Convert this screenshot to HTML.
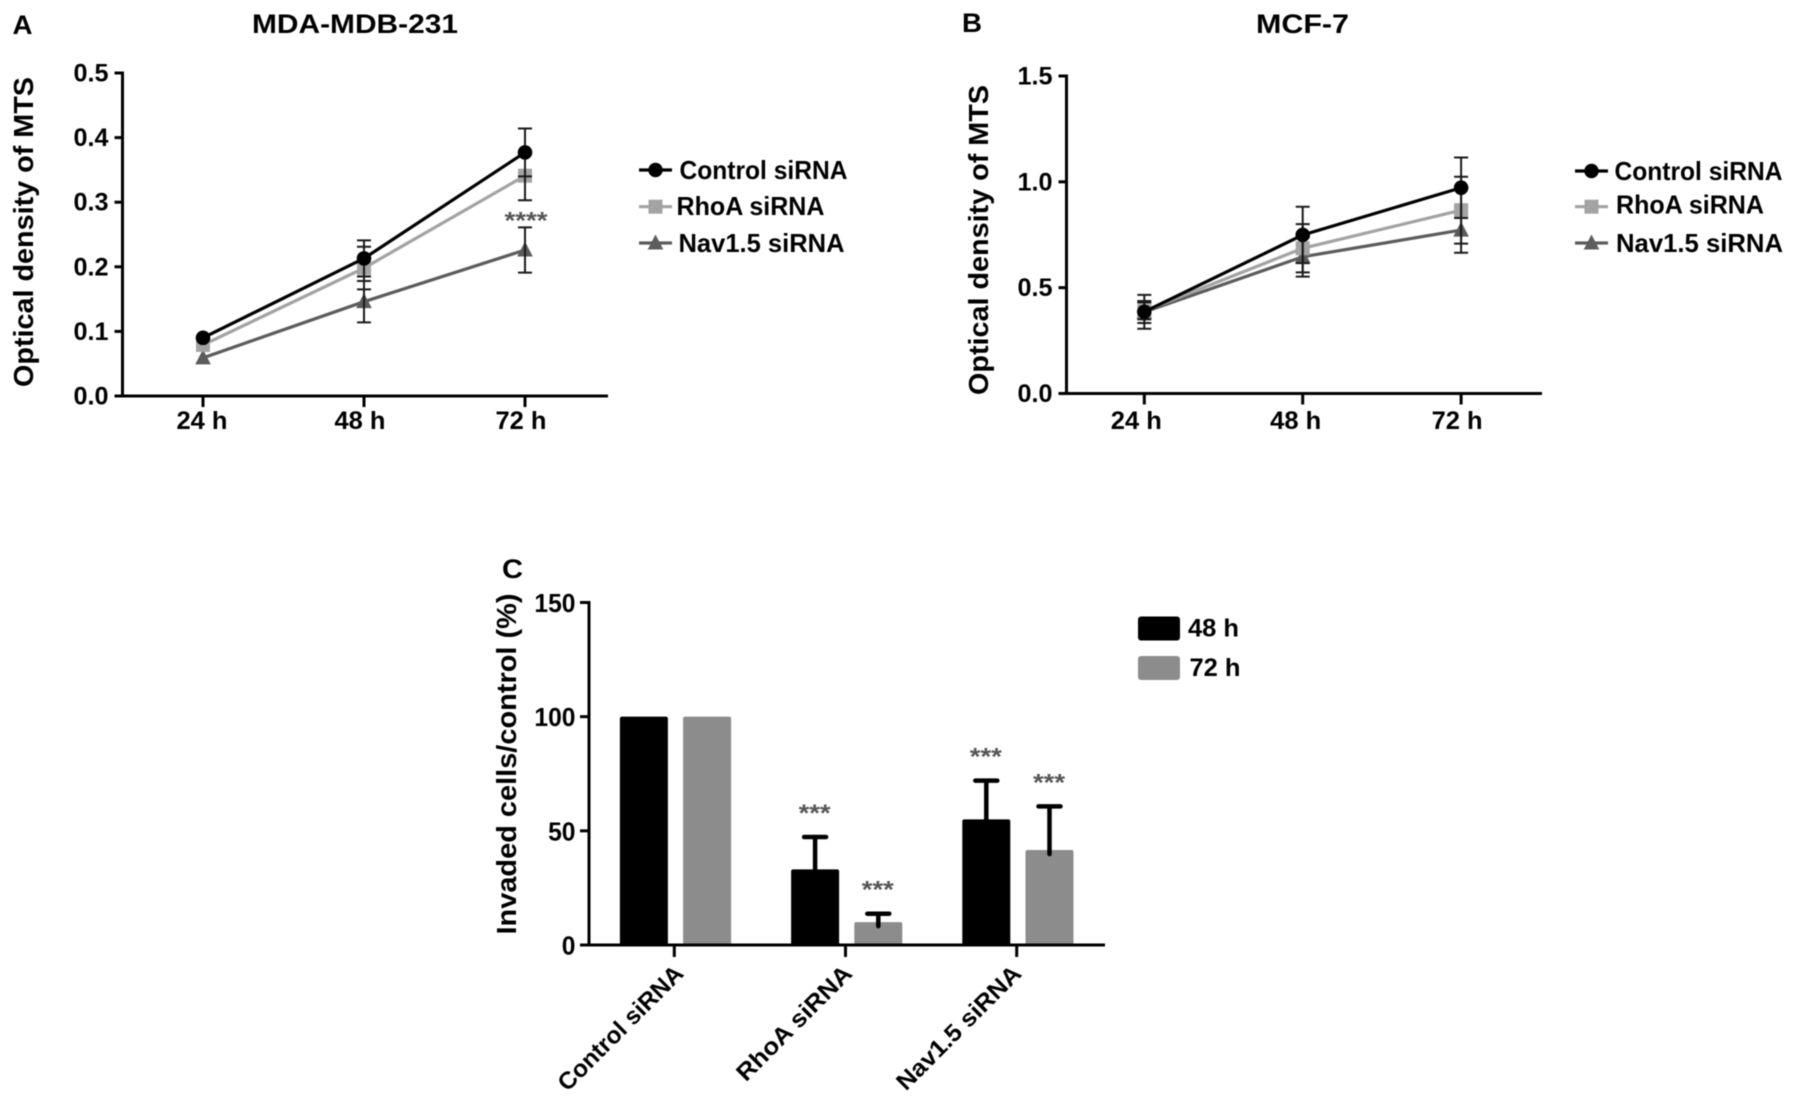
<!DOCTYPE html>
<html lang="en">
<head>
<meta charset="utf-8">
<title>MTS proliferation and cell invasion after siRNA knockdown</title>
<style>
  html, body { margin: 0; padding: 0; background: #fff; }
  body { width: 1795px; height: 1104px; overflow: hidden; }
  svg { display: block; filter: blur(0.45px); }
  text { font-family: "Liberation Sans", Arial, sans-serif; font-weight: bold; fill: #000; }
</style>
</head>
<body>
<svg id="figure" xmlns="http://www.w3.org/2000/svg" width="1795" height="1104" viewBox="0 0 1795 1104">
  <rect x="0" y="0" width="1795" height="1104" fill="#ffffff"></rect>
  <g id="panel-a"></g>
  <g id="panel-b"></g>
  <g id="panel-c"></g>
</svg>
<script>
// ---------- Data: shared labels ----------
const timeLabels = ['24 h', '48 h', '72 h'];
const seriesNames = ['Control siRNA', 'RhoA siRNA', 'Nav1.5 siRNA'];

// ---------- Data: panel A (MDA-MDB-231) ----------
const mdaTicks = [0.0, 0.1, 0.2, 0.3, 0.4, 0.5];
const mdaControl = [0.09, 0.213, 0.377];
const mdaRhoa = [0.079, 0.198, 0.341];
const mdaNav = [0.059, 0.146, 0.226];
const mdaControlErr = [0, 0.028, 0.037];
const mdaRhoaErr = [0, 0.033, 0.038];
const mdaNavErr = [0, 0.032, 0.035];

// ---------- Data: panel B (MCF-7) ----------
const mcfTicks = [0.0, 0.5, 1.0, 1.5];
const mcfControl = [0.386, 0.749, 0.972];
const mcfRhoa = [0.39, 0.686, 0.866];
const mcfNav = [0.385, 0.646, 0.772];
const mcfControlErr = [0.08, 0.133, 0.143];
const mcfRhoaErr = [0.04, 0.114, 0.158];
const mcfNavErr = [0.052, 0.094, 0.107];

// ---------- Data: panel C (invasion) ----------
const invadedTicks = [0, 50, 100, 150];
const invaded48 = [100, 33.1, 55];
const invaded72 = [100, 10, 41.6];
const invaded48Err = [0, 14.2, 17];
const invaded72Err = [0, 3.7, 19.1];
const sig48 = ['', '***', '***'];
const sig72 = ['', '***', '***'];
const barLegend = ['48 h', '72 h'];

// ---------- Helpers ----------
const SVGNS = 'http://www.w3.org/2000/svg';
function mk(tag, attrs, parent, content) {
  const el = document.createElementNS(SVGNS, tag);
  for (const k in attrs) el.setAttribute(k, attrs[k]);
  if (content !== undefined) el.textContent = content;
  parent.appendChild(el);
  return el;
}
function slug(s) { return s.toLowerCase().replace(/[^a-z0-9]+/g, '-').replace(/-$/, ''); }

function label(parent, name, x, y, str, size, opts) {
  const o = opts || {};
  const attrs = { x: x, y: y, 'font-size': size, 'text-anchor': o.anchor || 'start' };
  if (o.length) { attrs.textLength = o.length; attrs.lengthAdjust = 'spacingAndGlyphs'; }
  if (o.rotate !== undefined) attrs.transform = 'rotate(' + o.rotate + ' ' + x + ' ' + y + ')';
  if (o.color) attrs.style = 'fill:' + o.color;
  const t = mk('text', attrs, parent, str);
  
  
  return t;
}

const seriesStyles = [
  { color: '#000000', marker: 'circle' },
  { color: '#a3a3a3', marker: 'square' },
  { color: '#5c5c5c', marker: 'triangle' }
];

function drawMarker(parent, kind, cx, cy, color, name) {
  let m;
  if (kind === 'circle') {
    m = mk('circle', { cx: cx, cy: cy, r: 7.2, fill: color }, parent);
  } else if (kind === 'square') {
    m = mk('rect', { x: cx - 7, y: cy - 7, width: 14, height: 14, fill: color }, parent);
  } else {
    const pts = [cx, cy - 8.5, cx + 7.8, cy + 6.5, cx - 7.8, cy + 6.5].join(' ');
    m = mk('polygon', { points: pts, fill: color }, parent);
  }
  
  
}

function drawLinePanel(cfg) {
  const g = document.getElementById(cfg.id);
  const yOf = v => cfg.y0 + (v - cfg.ticks[0]) / (cfg.ticks[cfg.ticks.length - 1] - cfg.ticks[0]) * (cfg.yTop - cfg.y0);
  const xOf = i => cfg.x0 + i * cfg.step;

  label(g, 'panel-letter', cfg.letterX, cfg.letterY, cfg.letter, 27, { length: cfg.letterW });
  label(g, 'chart-title', cfg.titleX, cfg.titleY, cfg.title, 27, { length: cfg.titleW });
  label(g, 'y-axis-title', cfg.yTitleX, cfg.yTitleY, 'Optical density of MTS', 28, { rotate: -90, length: 310 });

  const yAxis = mk('line', { x1: cfg.axisX, x2: cfg.axisX, y1: cfg.yTop - 1.5, y2: cfg.y0 + 1.5, stroke: '#000', 'stroke-width': 3 }, g);
  
  
  const xAxis = mk('line', { x1: cfg.axisX - 8, x2: cfg.axisRight, y1: cfg.y0, y2: cfg.y0, stroke: '#000', 'stroke-width': 3 }, g);
  
  

  cfg.ticks.forEach(function (v) {
    const t = mk('line', { x1: cfg.axisX - 8, x2: cfg.axisX, y1: yOf(v), y2: yOf(v), stroke: '#000', 'stroke-width': 3 }, g);
    
    
    label(g, 'y-tick-label', cfg.axisX - 14, yOf(v) + 8.5, v.toFixed(1), 25, { anchor: 'end', length: 35 });
  });
  timeLabels.forEach(function (s, i) {
    const t = mk('line', { x1: xOf(i), x2: xOf(i), y1: cfg.y0, y2: cfg.y0 + 11, stroke: '#000', 'stroke-width': 3 }, g);
    
    
    label(g, 'x-tick-label', xOf(i) + cfg.xLabelDx[i], 429, s, 25, { anchor: 'middle', length: 51 });
  });

  // Draw back-to-front: Nav1.5, RhoA, Control.
  [2, 1, 0].forEach(function (s) {
    const vals = cfg.series[s];
    const errs = cfg.errors[s];
    const style = seriesStyles[s];
    const sg = mk('g', {}, g);
    
    

    const line = mk('polyline', {
      points: vals.map((v, i) => xOf(i) + ',' + yOf(v)).join(' '),
      fill: 'none', stroke: style.color, 'stroke-width': 3.2
    }, sg);
    
    

    vals.forEach(function (v, i) {
      drawMarker(sg, style.marker, xOf(i), yOf(v), style.color, 'data-point');
    });
    vals.forEach(function (v, i) {
      if (!errs[i]) return;
      const x = xOf(i), hi = yOf(v + errs[i]), lo = yOf(v - errs[i]);
      const d = 'M' + x + ' ' + hi + 'V' + lo + 'M' + (x - 7) + ' ' + hi + 'H' + (x + 7) + 'M' + (x - 7) + ' ' + lo + 'H' + (x + 7);
      const e = mk('path', { d: d, fill: 'none', stroke: '#1a1a1a', 'stroke-width': 2 }, sg);
      
      
    });
  });
  // Control point stays on top of the error whiskers.
  cfg.series[0].forEach(function (v, i) {
    drawMarker(g, 'circle', xOf(i), yOf(v), '#000000', 'control-point-top');
  });

  // Significance
  if (cfg.sig) {
    const top = cfg.series[2][2] + cfg.errors[2][2];
    label(g, 'significance-marker', xOf(2) + 1, yOf(top) + 1, cfg.sig, 24, { anchor: 'middle', length: 43, color: '#555555' });
  }

  // Legend
  seriesNames.forEach(function (name, i) {
    const lg = mk('g', {}, g);
    
    
    const yy = cfg.legendY[i];
    const ll = mk('line', { x1: cfg.legendX, x2: cfg.legendX + 33, y1: yy, y2: yy, stroke: seriesStyles[i].color, 'stroke-width': 3.2 }, lg);
    
    
    drawMarker(lg, seriesStyles[i].marker, cfg.legendX + 16.5, yy, seriesStyles[i].color, 'legend-marker');
    label(lg, 'legend-label', cfg.legendTextX[i], cfg.legendBase[i], name, 26, { length: cfg.legendTextW[i] });
  });
}

drawLinePanel({
  id: 'panel-a', letter: 'A', letterX: 12.5, letterY: 34, letterW: 20,
  title: 'MDA-MDB-231', titleX: 252, titleY: 33, titleW: 206,
  yTitleX: 33, yTitleY: 387,
  axisX: 122.5, axisRight: 608, y0: 396, yTop: 73,
  x0: 203, step: 161, xLabelDx: [-1, -4, -4],
  ticks: mdaTicks,
  series: [mdaControl, mdaRhoa, mdaNav],
  errors: [mdaControlErr, mdaRhoaErr, mdaNavErr],
  sig: '****',
  legendX: 639, legendY: [170, 206.7, 243],
  legendTextX: [679.5, 676.5, 678.5], legendBase: [179, 215, 252], legendTextW: [168, 148, 166]
});

drawLinePanel({
  id: 'panel-b', letter: 'B', letterX: 962, letterY: 32, letterW: 20,
  title: 'MCF-7', titleX: 1256, titleY: 33, titleW: 93,
  yTitleX: 988, yTitleY: 395,
  axisX: 1066.5, axisRight: 1542, y0: 393.5, yTop: 76,
  x0: 1144.3, step: 158.4, xLabelDx: [-8, -7, -4],
  ticks: mcfTicks,
  series: [mcfControl, mcfRhoa, mcfNav],
  errors: [mcfControlErr, mcfRhoaErr, mcfNavErr],
  sig: null,
  legendX: 1575, legendY: [171, 206.7, 243],
  legendTextX: [1614.5, 1616, 1616], legendBase: [180, 213.5, 252], legendTextW: [168, 148, 167]
});

// ---------- Panel C: bars ----------
(function () {
  const g = document.getElementById('panel-c');
  const axisX = 589, axisRight = 1105, y0 = 945, yTop = 602.5;
  const yOf = v => y0 - (v - invadedTicks[0]) / (invadedTicks[invadedTicks.length - 1] - invadedTicks[0]) * (y0 - yTop);
  const xOf = i => 674.3 + i * 171.2;
  const barW = 48;

  label(g, 'panel-letter', 502, 578, 'C', 27, { length: 21 });
  label(g, 'y-axis-title', 516, 934.5, 'Invaded cells/control (%)', 28, { rotate: -90, length: 341 });

  const yAxis = mk('line', { x1: axisX, x2: axisX, y1: yTop - 1.5, y2: y0 + 1.5, stroke: '#000', 'stroke-width': 3 }, g);
  
  

  invadedTicks.forEach(function (v) {
    const t = mk('line', { x1: axisX - 9, x2: axisX, y1: yOf(v), y2: yOf(v), stroke: '#000', 'stroke-width': 3 }, g);
    
    
    label(g, 'y-tick-label', 575.5, yOf(v) + 9.5, String(v), 26, { anchor: 'end', length: String(v).length * 13.7 });
  });

  function drawBar(i, val, err, sig, offset, color, name) {
    const cx = xOf(i) + offset;
    const bar = mk('rect', { x: cx - barW / 2, y: yOf(val), width: barW, height: y0 - yOf(val), rx: 2, fill: color }, g);
    
    
    if (err > 0) {
      const top = yOf(val + err);
      const d = 'M' + cx + ' ' + (yOf(val) + 4) + 'V' + top + 'M' + (cx - 11) + ' ' + top + 'H' + (cx + 11);
      const e = mk('path', { d: d, fill: 'none', stroke: '#000', 'stroke-width': 4.5, 'stroke-linecap': 'round' }, g);
      
      
    }
    if (sig) {
      label(g, 'significance-marker', cx - 0.5, yOf(val + err) - 16, sig, 24, { anchor: 'middle', length: 32, color: '#555555' });
    }
  }
  const bar48Names = ['bar-control-48h', 'bar-rhoa-48h', 'bar-nav15-48h'];
  const bar72Names = ['bar-control-72h', 'bar-rhoa-72h', 'bar-nav15-72h'];
  seriesNames.forEach(function (name, i) {
    drawBar(i, invaded48[i], invaded48Err[i], sig48[i], -30.4, '#000000', bar48Names[i]);
    drawBar(i, invaded72[i], invaded72Err[i], sig72[i], 32.8, '#8c8c8c', bar72Names[i]);
  });

  const xAxis = mk('line', { x1: axisX - 9, x2: axisRight, y1: y0, y2: y0, stroke: '#000', 'stroke-width': 3 }, g);
  
  

  const labelLengths = [166, 152, 165];
  const labelDx = [10.5, 8, 6];
  seriesNames.forEach(function (name, i) {
    const t = mk('line', { x1: xOf(i), x2: xOf(i), y1: y0, y2: y0 + 12, stroke: '#000', 'stroke-width': 3 }, g);
    
    
    label(g, 'x-tick-label', xOf(i) + labelDx[i], 975, name, 24, { anchor: 'end', rotate: -45, length: labelLengths[i] });
  });

  const swatchColors = ['#000000', '#8c8c8c'];
  const swatchTops = [616.5, 656];
  const legendBases = [636.5, 676];
  const legendTextX = [1188, 1189.5];
  barLegend.forEach(function (name, i) {
    const lg = mk('g', {}, g);
    
    
    const sw = mk('rect', { x: 1138, y: swatchTops[i], width: 42, height: 24, rx: 3, fill: swatchColors[i] }, lg);
    
    
    label(lg, 'legend-label', legendTextX[i], legendBases[i], name, 25, { length: 51 });
  });
})();
</script>
</body>
</html>
